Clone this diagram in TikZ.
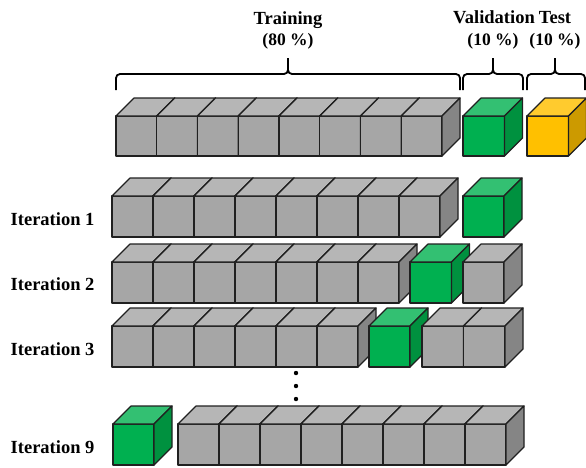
\documentclass[tikz,border=0pt]{standalone}
\usepackage{fontspec}
\setmainfont{Liberation Serif}
\definecolor{grayF}{HTML}{A6A6A6}
\definecolor{grayT}{HTML}{B6B6B6}
\definecolor{grayS}{HTML}{858585}
\definecolor{valF}{HTML}{00B050}
\definecolor{valT}{HTML}{33C072}
\definecolor{valS}{HTML}{00913F}
\definecolor{tstF}{HTML}{FFC000}
\definecolor{tstT}{HTML}{FFCB2E}
\definecolor{tstS}{HTML}{CC9A00}
\definecolor{edge}{HTML}{202020}

\tikzset{
  cubeedge/.style={draw=edge, line width=1.2pt, line join=round},
  bracepath/.style={draw=black, line width=1.8pt, rounded corners=4pt},
  title/.style={font=\bfseries\fontsize{18.5}{20}\selectfont, anchor=base, inner sep=0pt},
  share/.style={font=\bfseries\fontsize{17.5}{20}\selectfont, anchor=base, inner sep=0pt},
  itlabel/.style={font=\bfseries\fontsize{18.5}{20}\selectfont, anchor=base west, inner sep=0pt},
}

% one cube: #1,#2 = top-left corner of the front face, #3 = width, #4 = height, #5 = palette
\newcommand\unitcube[5]{%
  \filldraw[cubeedge, fill=#5F] (#1,#2) rectangle ++(#3,#4);
  \filldraw[cubeedge, fill=#5T] (#1,#2) -- ++(18,-18) -- ++(#3,0) -- ++(-18,18) -- cycle;
  \filldraw[cubeedge, fill=#5S] (#1+#3,#2) -- ++(18,-18) -- ++(0,#4) -- ++(-18,18) -- cycle;
}
% a row of #3 touching cubes starting at (#1,#2)
\newcommand\cuberow[6]{%
  \foreach \k in {1,...,#3}{%
    \pgfmathsetmacro\cx{#1+(\k-1)*#4}%
    \unitcube{\cx}{#2}{#4}{#5}{#6}%
  }%
}
% a curly brace from x=#1 to x=#2 with its tip at x=#3
\newcommand\splitbrace[3]{%
  \draw[bracepath] (#1,90) -- (#1,74) -- (#3,74) -- (#3,58);
  \draw[bracepath] (#2,90) -- (#2,74) -- (#3,74) -- (#3,58);
}

\begin{document}
\begin{tikzpicture}[x=1pt, y=-1pt]
\useasboundingbox (0,0) rectangle (586,467);

% headings
\node[title] (trainT) at (288,24) {Training};
\node[share] (trainP) at (288,45) {(80 \%)};
\node[title] (valT) at (494,23) {Validation};
\node[share] (valP) at (493,45) {(10 \%)};
\node[title] (testT) at (555,23) {Test};
\node[share] (testP) at (555,45) {(10 \%)};

% braces
\splitbrace{116}{460}{288}
\splitbrace{463}{523}{493}
\splitbrace{527}{585}{555}

% full data set
\cuberow{116}{116}{8}{40.75}{40}{gray}
\unitcube{463}{116}{41.5}{40}{val}
\unitcube{527}{116}{41.5}{40}{tst}

% iteration 1
\node[itlabel] (it1) at (10.5,225) {Iteration 1};
\cuberow{112}{196}{8}{41}{41}{gray}
\unitcube{463}{196}{41}{41}{val}

% iteration 2
\node[itlabel] (it2) at (10.5,290) {Iteration 2};
\cuberow{112}{262}{7}{41}{41}{gray}
\unitcube{410}{262}{41.5}{41}{val}
\unitcube{463}{262}{41}{41}{gray}

% iteration 3
\node[itlabel] (it3) at (10.5,355) {Iteration 3};
\cuberow{112}{326}{6}{41}{41}{gray}
\unitcube{369}{326}{41}{41}{val}
\cuberow{422}{326}{2}{41.5}{41}{gray}

% ellipsis
\foreach \yy in {373,386,399}{\fill (296,\yy) circle (2.2);}

% iteration 9
\node[itlabel] (it9) at (10.5,453) {Iteration 9};
\unitcube{113}{424}{41}{41}{val}
\cuberow{178}{424}{8}{41}{41}{gray}
\end{tikzpicture}
\end{document}
